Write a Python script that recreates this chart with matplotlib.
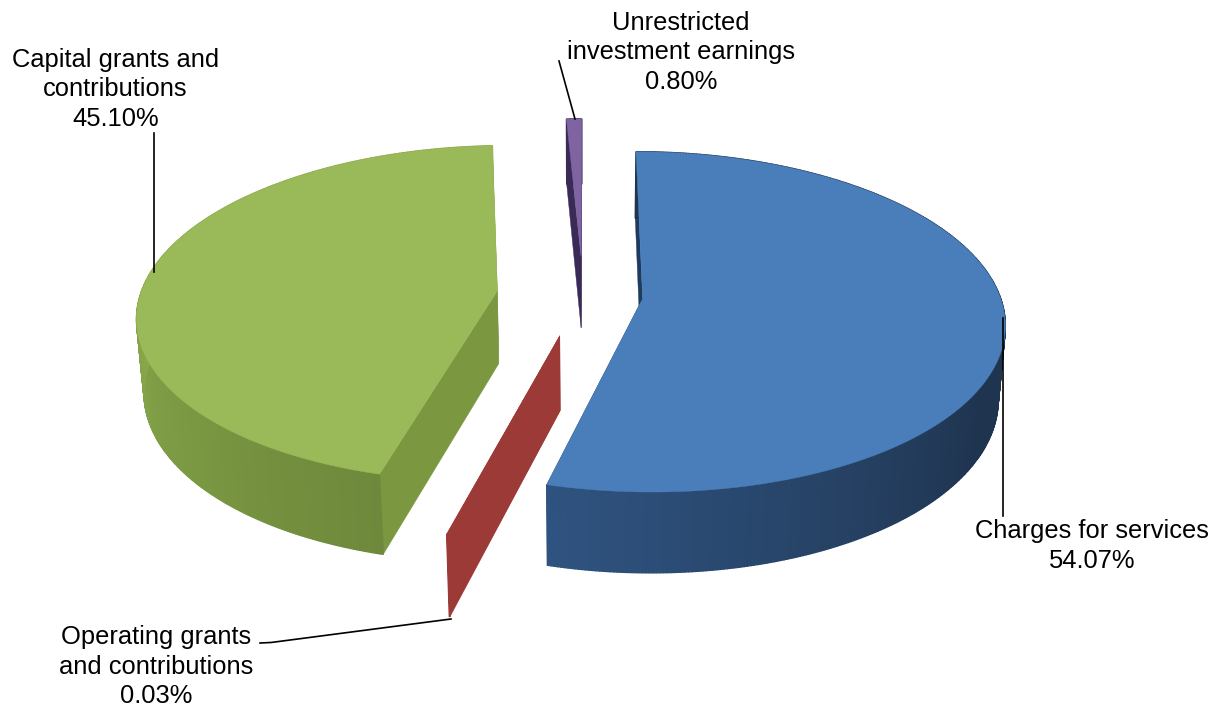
import numpy as np
import matplotlib
matplotlib.use("Agg")
import matplotlib.pyplot as plt
from matplotlib.colors import to_rgb
from matplotlib.patches import Polygon

plt.rcParams['font.family'] = ['Liberation Sans', 'DejaVu Sans']

# clockwise from 12 o'clock
categories = ["Charges for services", "Operating grants\nand contributions",
              "Capital grants and\ncontributions", "Unrestricted\ninvestment earnings"]
shares = [54.07, 0.03, 45.10, 0.80]

top_colors = ["#4a7ebb", "#a03c3a", "#9ab958", "#8064a2"]
cut_colors = ["#1f3a5f", "#9c3a38", "#7b9840", "#3a2a58"]
wall_dark = ["#1f344f", "#9c3a38", "#6e893b", "#3a2a58"]
wall_light = ["#2f5380", "#9c3a38", "#8aaa4c", "#3a2a58"]
# angle range over which the wall goes from dark to light
wall_span = [(120, 194), (0, 360), (195, 275), (0, 360)]
explode = [0.168, 0.246, 0.242, 0.24]

# camera
X0, Y0 = 583, 295
RX = 357
SIN_E, COS_E = 0.465, 0.885
DIST = 6.5
HEIGHT = 0.235
ROTATE = 0.1


def project(x, y, z):
    yc = y * SIN_E + z * COS_E
    w = 1 + (y * COS_E - z * SIN_E) / DIST
    return X0 + RX * x / w, Y0 - RX * yc / w


def wall_color(i, deg):
    lo, hi = wall_span[i]
    t = np.clip((deg - lo) / (hi - lo), 0, 1)
    a = np.array(to_rgb(wall_dark[i]))
    b = np.array(to_rgb(wall_light[i]))
    return a + (b - a) * t


fig = plt.figure(figsize=(12.23, 7.11), dpi=100)
ax = fig.add_axes([0, 0, 1, 1])
ax.set_xlim(0, 1223)
ax.set_ylim(711, 0)
ax.axis("off")

angle = ROTATE
for i, share in enumerate(shares):
    sweep = share * 3.6
    start, end = angle, angle + sweep
    angle = end
    mid = np.radians((start + end) / 2)
    cx = explode[i] * np.sin(mid)
    cy = explode[i] * np.cos(mid)
    deg = np.linspace(start, end, max(int(sweep * 2), 2))
    th = np.radians(deg)
    px = cx + np.sin(th)
    py = cy + np.cos(th)

    # the two flat cut faces
    for k in (0, -1):
        a = project(cx, cy, 0)
        b = project(px[k], py[k], 0)
        c = project(px[k], py[k], -HEIGHT)
        d = project(cx, cy, -HEIGHT)
        ax.add_patch(Polygon([a, b, c, d], fc=cut_colors[i], ec=cut_colors[i], lw=0.3))

    # curved outer wall, shaded strip by strip
    for k in range(len(th) - 1):
        col = wall_color(i, deg[k])
        a = project(px[k], py[k], 0)
        b = project(px[k + 1], py[k + 1], 0)
        c = project(px[k + 1], py[k + 1], -HEIGHT)
        d = project(px[k], py[k], -HEIGHT)
        ax.add_patch(Polygon([a, b, c, d], fc=col, ec=col, lw=1.0))

    tx, ty = project(np.r_[cx, px], np.r_[cy, py], 0)
    ax.add_patch(Polygon(np.c_[tx, ty], fc=top_colors[i], ec=top_colors[i], lw=0.3))

# leader lines
ax.plot([1003, 1003], [318, 516], color="black", lw=1.2)
ax.plot([260, 271, 451], [643, 642.5, 619], color="black", lw=1.2)
ax.plot([153.5, 153.5], [133, 272], color="black", lw=1.2)
ax.plot([559, 575], [61, 119], color="black", lw=1.2)

# label blocks: centre x and baseline of the first line
label_pos = [(1092, 538), (156, 644), (115.5, 67), (681, 30)]
for name, share, (lx, ly) in zip(categories, shares, label_pos):
    for n, line in enumerate(name.split("\n") + [f"{share:.2f}%"]):
        ax.text(lx, ly + n * 29.5, line, ha="center", va="baseline", fontsize=18.4, color="black")

fig.savefig("out.png", dpi=100)
